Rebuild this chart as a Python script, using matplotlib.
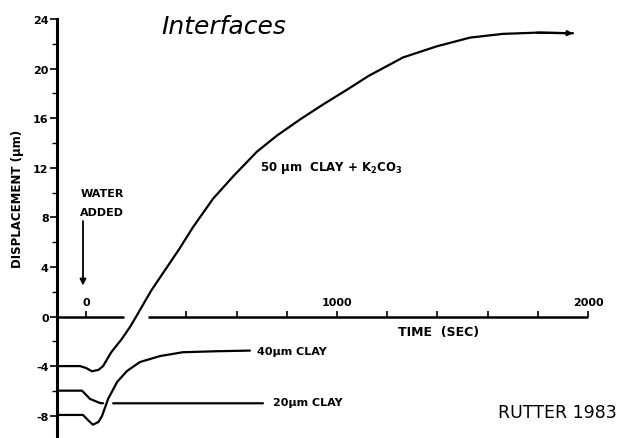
import numpy as np
import matplotlib
matplotlib.use("Agg")
import matplotlib.pyplot as plt
from matplotlib.ticker import FixedLocator, FixedFormatter

# Displacement vs time after water added
t_50 = [-115, -24, 0, 24, 50, 68, 100, 143, 175, 200, 260, 370, 426, 506,
        586, 681, 761, 853, 944, 1040, 1125, 1263, 1398, 1530, 1661, 1797, 1940]
d_50 = [-4.0, -4.0, -4.15, -4.42, -4.3, -4.0, -2.9, -1.8, -0.85, 0.0, 2.1, 5.4,
        7.2, 9.5, 11.3, 13.3, 14.6, 15.9, 17.1, 18.3, 19.4, 20.9, 21.8,
        22.5, 22.8, 22.9, 22.85]

t_40 = [-115, -12, 10, 28, 50, 64, 88, 124, 163, 215, 295, 386, 522, 653]
d_40 = [-7.94, -7.94, -8.4, -8.73, -8.5, -8.02, -6.65, -5.28, -4.4, -3.67,
        -3.19, -2.88, -2.8, -2.75]

# 20 um trace has a break where the 40 um trace crosses it
t_20 = [-115, -16, 16, 56, 68, 88, 108, 705]
d_20 = [-5.98, -5.98, -6.65, -6.98, -7.0, np.nan, -7.0, -7.0]

y_major = [-8, -4, 0, 4, 8, 12, 16, 20, 24]
y_labels = ["-8", "-4", "0", "4", "8", "12", "16", "20", "24"]
y_minor = [-6, -2, 2, 6, 10, 14, 18, 22]
x_major = [0, 1000, 2000]
x_labels = ["0", "1000", "2000"]
x_minor = [400, 600, 800, 1200, 1400, 1600, 1800]

LW = 1.6
TICK_FONT = dict(fontsize=8, fontweight="bold")

fig = plt.figure(figsize=(6.32, 4.39), dpi=100)
ax = fig.add_axes([57 / 632, 0, 575 / 632, 419 / 439])
ax.set_xlim(-115.5, 2175)
ax.set_ylim(-9.8, 24)

# curves
ax.plot(t_50, d_50, color="black", lw=LW, solid_capstyle="round", solid_joinstyle="round")
ax.plot(t_40, d_40, color="black", lw=LW, solid_capstyle="round", solid_joinstyle="round")
ax.plot(t_20, d_20, color="black", lw=LW, solid_capstyle="round", solid_joinstyle="round")
ax.annotate("", xy=(t_50[-1], d_50[-1]), xytext=(t_50[-2], d_50[-2]),
            arrowprops=dict(arrowstyle="-|>", color="black", lw=LW,
                            mutation_scale=7, shrinkA=0, shrinkB=0))

# time axis drawn at zero displacement, broken where the 50 um curve crosses
ax.plot([-115.5, 151], [0, 0], color="black", lw=1.8, solid_capstyle="butt")
ax.plot([247, 2000], [0, 0], color="black", lw=1.8, solid_capstyle="butt")

for side in ["right", "bottom"]:
    ax.spines[side].set_visible(False)
ax.spines["top"].set_position(("data", 0))
ax.spines["top"].set_visible(False)
ax.spines["left"].set_linewidth(2.2)

ax.xaxis.set_ticks_position("top")
ax.xaxis.set_major_locator(FixedLocator(x_major))
ax.xaxis.set_major_formatter(FixedFormatter(x_labels))
ax.xaxis.set_minor_locator(FixedLocator(x_minor))
ax.tick_params(axis="x", which="both", direction="out", length=4, width=1.2, pad=3)

ax.yaxis.set_major_locator(FixedLocator(y_major))
ax.yaxis.set_major_formatter(FixedFormatter(y_labels))
ax.yaxis.set_minor_locator(FixedLocator(y_minor))
ax.tick_params(axis="y", which="major", direction="out", length=5, width=1.2, pad=1)
ax.tick_params(axis="y", which="minor", direction="out", length=3.5, width=1.0)

for lab in ax.get_xticklabels() + ax.get_yticklabels():
    lab.set_fontsize(8)
    lab.set_fontweight("bold")

# labels
ax.text(550, 23.4, "Interfaces", fontsize=18, style="italic",
        ha="center", va="center")
ax.text(693, 12.1, r"50 µm  CLAY + K$_\mathbf{2}$CO$_\mathbf{3}$",
        ha="left", va="center", fontsize=8.5, fontweight="bold")
ax.text(681, -2.8, "40µm CLAY", ha="left", va="center", **TICK_FONT)
ax.text(745, -6.9, "20µm CLAY", ha="left", va="center", **TICK_FONT)
ax.text(64, 10.0, "WATER", ha="center", va="center", **TICK_FONT)
ax.text(64, 8.4, "ADDED", ha="center", va="center", **TICK_FONT)
ax.annotate("", xy=(-12, 2.5), xytext=(-12, 7.7),
            arrowprops=dict(arrowstyle="-|>", color="black", lw=1.3,
                            mutation_scale=9, shrinkA=0, shrinkB=0))
ax.text(1406, -1.2, "TIME  (SEC)", ha="center", va="center",
        fontsize=9, fontweight="bold")
ax.text(1877, -7.7, "RUTTER 1983", ha="center", va="center", fontsize=12.5)
fig.text(17.5 / 632, 1 - 198.5 / 439, "DISPLACEMENT (µm)", rotation=90,
         ha="center", va="center", fontsize=8.5, fontweight="bold")

fig.savefig("out.png", dpi=100)
plt.close(fig)
